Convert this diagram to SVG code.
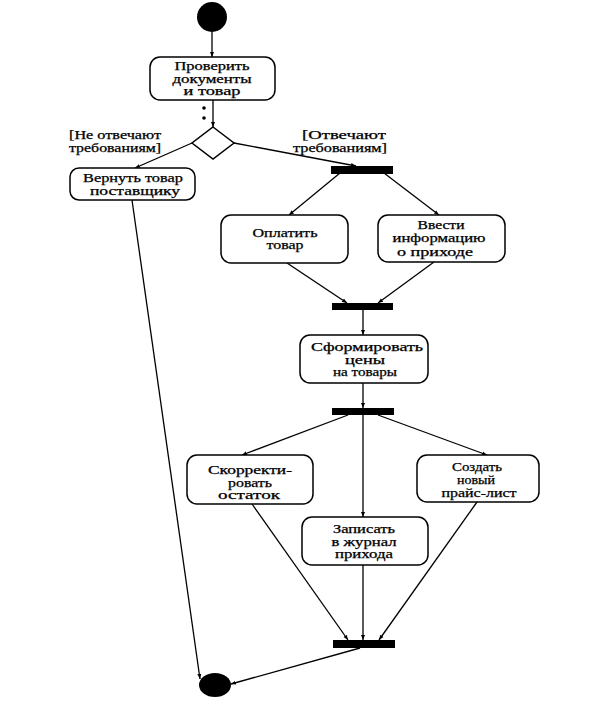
<svg xmlns="http://www.w3.org/2000/svg" width="600" height="704" viewBox="0 0 600 704">
<defs>
<marker id="arr" viewBox="0 0 10 10" refX="10" refY="5" markerWidth="5" markerHeight="5" orient="auto" markerUnits="userSpaceOnUse">
<path d="M0,1 L10,5 L0,9 Z" fill="#000"/>
</marker>
<style>
.box{fill:#fff;stroke:#000;stroke-width:1.5}
.t{font-family:"Liberation Serif","Times New Roman",serif;font-size:11.5px;fill:#000;text-anchor:middle;stroke:#000;stroke-width:0.25}
.g{font-family:"Liberation Serif","Times New Roman",serif;font-size:11.5px;fill:#000;text-anchor:middle;stroke:#000;stroke-width:0.25}
.c{stroke:#000;stroke-width:1.3;fill:none;marker-end:url(#arr)}
.bar{fill:#000}
</style>
</defs>
<rect width="600" height="704" fill="#fff"/>
<g id="connectors">
<line class="c" x1="212" y1="32" x2="212" y2="57"/>
<line class="c" x1="213" y1="100" x2="213" y2="127"/>
<line class="c" x1="192" y1="143" x2="135" y2="168"/>
<line class="c" x1="234" y1="143" x2="356" y2="166"/>
<line class="c" x1="340" y1="173" x2="289" y2="215"/>
<line class="c" x1="384" y1="173" x2="439" y2="215"/>
<line class="c" x1="287" y1="263" x2="347" y2="303"/>
<line class="c" x1="434" y1="262" x2="378" y2="303"/>
<line class="c" x1="363" y1="310" x2="363" y2="335"/>
<line class="c" x1="363" y1="383" x2="363" y2="408"/>
<line class="c" x1="348" y1="415" x2="242" y2="455"/>
<line class="c" x1="378" y1="415" x2="487" y2="455"/>
<line class="c" x1="363" y1="415" x2="363" y2="517"/>
<line class="c" x1="252" y1="504" x2="348" y2="640"/>
<line class="c" x1="363" y1="565" x2="363" y2="640"/>
<line class="c" x1="477" y1="502" x2="379" y2="640"/>
<line class="c" x1="360" y1="648" x2="231" y2="684"/>
<line class="c" x1="132" y1="200" x2="200" y2="679"/>
</g>
<g id="start"><ellipse cx="212" cy="17" rx="15" ry="15" fill="#000"/></g>
<g id="check">
<rect class="box" x="150" y="57" width="125" height="43" rx="10"/>
<text class="t" x="212" y="70" textLength="75" lengthAdjust="spacingAndGlyphs">Проверить</text>
<text class="t" x="212" y="83" textLength="79" lengthAdjust="spacingAndGlyphs">документы</text>
<text class="t" x="212" y="95" textLength="57" lengthAdjust="spacingAndGlyphs">и товар</text>
</g>
<g id="dots"><circle cx="204" cy="108" r="1.8" fill="#000"/><circle cx="204" cy="118" r="1.8" fill="#000"/></g>
<g id="decision">
<polygon points="213,127 234,143 213,159 192,143" fill="#fff" stroke="#000" stroke-width="1.5"/>
</g>
<g id="guard-no">
<text class="g" x="115" y="139" textLength="92" lengthAdjust="spacingAndGlyphs">[Не отвечают</text>
<text class="g" x="115" y="152" textLength="92" lengthAdjust="spacingAndGlyphs">требованиям]</text>
</g>
<g id="guard-yes">
<text class="g" x="344" y="139" textLength="84" lengthAdjust="spacingAndGlyphs">[Отвечают</text>
<text class="g" x="340" y="152" textLength="94" lengthAdjust="spacingAndGlyphs">требованиям]</text>
</g>
<g id="return">
<rect class="box" x="70" y="168" width="125" height="32" rx="9"/>
<text class="t" x="133" y="182" textLength="100" lengthAdjust="spacingAndGlyphs">Вернуть товар</text>
<text class="t" x="135" y="195" textLength="90" lengthAdjust="spacingAndGlyphs">поставщику</text>
</g>
<g id="fork1"><rect class="bar" x="331" y="166" width="62" height="8"/></g>
<g id="pay">
<rect class="box" x="221" y="215" width="127" height="48" rx="10"/>
<text class="t" x="285" y="237" textLength="65" lengthAdjust="spacingAndGlyphs">Оплатить</text>
<text class="t" x="285" y="249" textLength="37" lengthAdjust="spacingAndGlyphs">товар</text>
</g>
<g id="enter">
<rect class="box" x="378" y="215" width="127" height="47" rx="10"/>
<text class="t" x="441" y="229" textLength="47" lengthAdjust="spacingAndGlyphs">Ввести</text>
<text class="t" x="439" y="242" textLength="93" lengthAdjust="spacingAndGlyphs">информацию</text>
<text class="t" x="435" y="256" textLength="76" lengthAdjust="spacingAndGlyphs">о приходе</text>
</g>
<g id="join1"><rect class="bar" x="332" y="303" width="61" height="7"/></g>
<g id="prices">
<rect class="box" x="300" y="335" width="128" height="48" rx="10"/>
<text class="t" x="367" y="351" textLength="112" lengthAdjust="spacingAndGlyphs">Сформировать</text>
<text class="t" x="365" y="364" textLength="40" lengthAdjust="spacingAndGlyphs">цены</text>
<text class="t" x="365" y="376" textLength="64" lengthAdjust="spacingAndGlyphs">на товары</text>
</g>
<g id="fork2"><rect class="bar" x="332" y="408" width="62" height="7"/></g>
<g id="adjust">
<rect class="box" x="187" y="455" width="126" height="49" rx="10"/>
<text class="t" x="250" y="474" textLength="84" lengthAdjust="spacingAndGlyphs">Скорректи-</text>
<text class="t" x="250" y="487" textLength="44" lengthAdjust="spacingAndGlyphs">ровать</text>
<text class="t" x="249" y="499" textLength="62" lengthAdjust="spacingAndGlyphs">остаток</text>
</g>
<g id="pricelist">
<rect class="box" x="417" y="455" width="122" height="47" rx="10"/>
<text class="t" x="477" y="471" textLength="50" lengthAdjust="spacingAndGlyphs">Создать</text>
<text class="t" x="476" y="484" textLength="38" lengthAdjust="spacingAndGlyphs">новый</text>
<text class="t" x="479" y="497" textLength="75" lengthAdjust="spacingAndGlyphs">прайс-лист</text>
</g>
<g id="journal">
<rect class="box" x="302" y="517" width="126" height="48" rx="10"/>
<text class="t" x="364" y="533" textLength="62" lengthAdjust="spacingAndGlyphs">Записать</text>
<text class="t" x="364" y="546" textLength="65" lengthAdjust="spacingAndGlyphs">в журнал</text>
<text class="t" x="364" y="558" textLength="58" lengthAdjust="spacingAndGlyphs">прихода</text>
</g>
<g id="join2"><rect class="bar" x="333" y="640" width="62" height="8"/></g>
<g id="end"><ellipse cx="215" cy="685" rx="16" ry="12" fill="#000"/></g>
</svg>
